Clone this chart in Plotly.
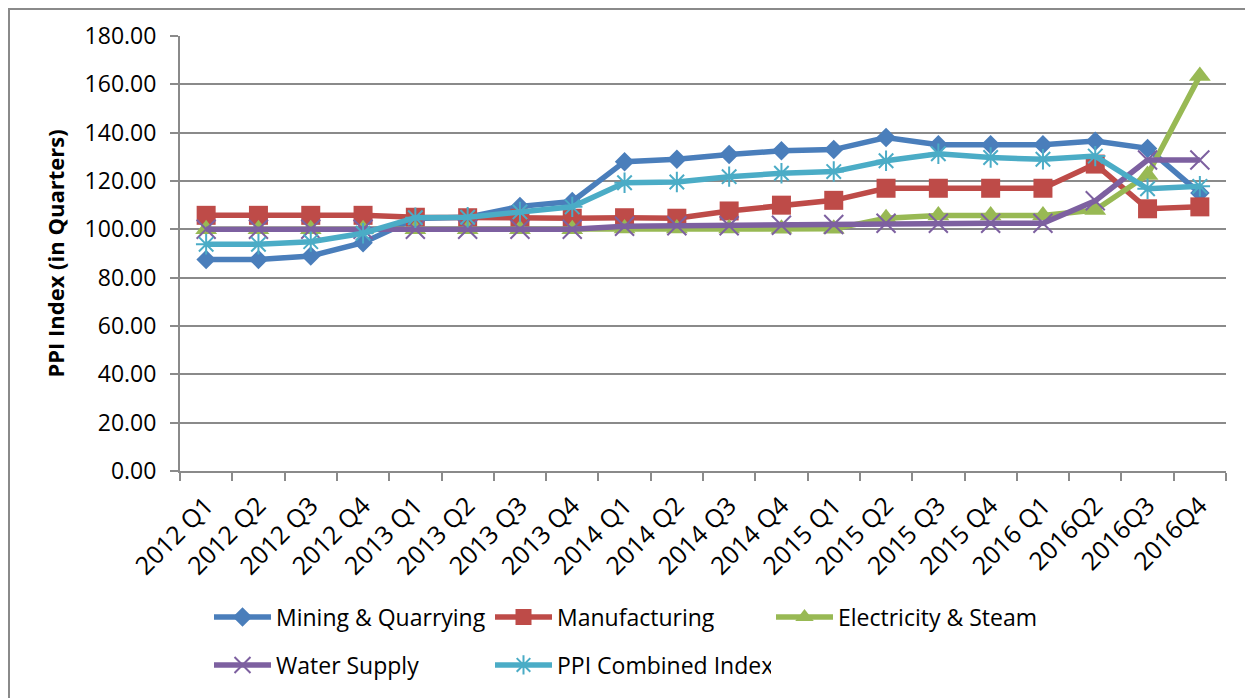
import plotly.graph_objects as go

quarters = ["2012 Q1", "2012 Q2", "2012 Q3", "2012 Q4",
            "2013 Q1", "2013 Q2", "2013 Q3", "2013 Q4",
            "2014 Q1", "2014 Q2", "2014 Q3", "2014 Q4",
            "2015 Q1", "2015 Q2", "2015 Q3", "2015 Q4",
            "2016 Q1", "2016Q2", "2016Q3", "2016Q4"]

mining = [87.5, 87.5, 89.0, 94.5, 104.5, 105.0, 109.5, 111.5, 128.0, 129.0,
          131.0, 132.5, 133.0, 138.0, 135.0, 135.0, 135.0, 136.5, 133.5, 115.0]
manufacturing = [105.8, 105.8, 105.8, 105.8, 105.0, 104.8, 104.6, 104.6, 104.8, 104.6,
                 107.6, 110.0, 112.0, 117.0, 117.0, 117.0, 117.0, 127.0, 108.5, 109.3]
electricity = [100.0, 100.0, 100.0, 100.0, 100.0, 100.0, 100.0, 100.0, 100.3, 100.3,
               100.3, 100.2, 100.2, 104.6, 105.7, 105.7, 105.7, 108.0, 122.5, 163.5]
water = [100.0, 100.0, 100.0, 100.0, 100.0, 100.0, 100.0, 100.0, 101.3, 101.5,
         101.5, 101.7, 102.0, 102.5, 102.5, 102.5, 102.5, 111.8, 128.7, 128.7]
ppi = [93.8, 93.8, 94.9, 98.4, 104.8, 105.0, 107.2, 109.3, 119.3, 119.6,
       121.8, 123.2, 123.9, 128.4, 131.3, 129.7, 129.0, 130.3, 116.8, 117.8]

y_ticks = [0, 20, 40, 60, 80, 100, 120, 140, 160, 180]

FONT = "Open Sans"
GRID = "#8a8a8a"

series = [
    ("Mining & Quarrying", mining, "#4A7EBB",
     dict(symbol="diamond", size=15, color="#4A7EBB"), "legend"),
    ("Manufacturing", manufacturing, "#BE4B48",
     dict(symbol="square", size=19, color="#BE4B48"), "legend"),
    ("Electricity & Steam", electricity, "#98B954",
     dict(symbol="triangle-up", size=19, color="#98B954"), "legend"),
    ("Water Supply", water, "#7D60A0",
     dict(symbol="x-thin-open", size=19, color="#7D60A0",
          line=dict(color="#7D60A0", width=2)), "legend2"),
    ("PPI Combined Index", ppi, "#4BACC6",
     dict(symbol="asterisk-open", size=17, color="#4BACC6",
          line=dict(color="#4BACC6", width=2)), "legend2"),
]

fig = go.Figure()
for name, vals, color, marker, leg in series:
    fig.add_trace(go.Scatter(
        x=quarters, y=vals, name=name, mode="lines+markers",
        line=dict(color=color, width=5.5),
        marker=marker, legend=leg,
    ))

# page body has an 8px default margin: design in screen pixels, then shift
OFF = 8
W, H = 1253 - OFF, 698 - OFF
ML, MT = 180 - OFF, 36 - OFF
PLOT_R, PLOT_B = 1226 - OFF, 471 - OFF
MR, MB = W - PLOT_R, H - PLOT_B
PW, PH = PLOT_R - ML, PLOT_B - MT


def px_x(x):
    return (x - OFF - ML) / PW


def px_y(y):
    return (PLOT_B - (y - OFF)) / PH


legend_common = dict(
    orientation="h", xanchor="left", yanchor="middle",
    font=dict(family=FONT, size=23, color="#000000"),
    itemwidth=57, entrywidth=209, entrywidthmode="pixels",
    bgcolor="rgba(0,0,0,0)", tracegroupgap=0, itemclick=False,
)

fig.update_layout(
    width=W, height=H,
    margin=dict(l=ML, r=MR, t=MT, b=MB, autoexpand=False),
    paper_bgcolor="white", plot_bgcolor="white",
    font=dict(family=FONT, size=23, color="#000000"),
    showlegend=True,
    legend=dict(x=px_x(209), y=px_y(617), **legend_common),
    legend2=dict(x=px_x(209), y=px_y(665), **legend_common),
    xaxis=dict(
        type="category", range=[-0.5, len(quarters) - 0.5],
        tickson="boundaries", ticks="outside", ticklen=8,
        tickcolor=GRID, tickwidth=2, showline=True, linecolor=GRID, linewidth=2,
        showgrid=False, tickangle=-45, automargin=False, ticklabelstandoff=8,
        tickfont=dict(family=FONT, size=25, color="#000000"),
    ),
    yaxis=dict(
        range=[0, 180], tickvals=y_ticks, tickformat=".2f",
        ticks="outside", ticklen=8, tickcolor=GRID, tickwidth=2,
        showline=True, linecolor=GRID, linewidth=2,
        showgrid=True, gridcolor=GRID, gridwidth=2, zeroline=False,
        automargin=False, ticklabelstandoff=9,
        tickfont=dict(family=FONT, size=23, color="#000000"),
        title=dict(text="<b>PPI Index (in Quarters)</b>", standoff=14,
                   font=dict(family=FONT, size=22, color="#000000")),
    ),
    shapes=[dict(
        type="rect", xref="paper", yref="paper", layer="above",
        x0=px_x(9), x1=px_x(1253 + 20),
        y0=px_y(698 + 20), y1=px_y(9),
        line=dict(color="#8a8a8a", width=2), fillcolor="rgba(0,0,0,0)",
    )],
)

fig.write_html("out.html")
